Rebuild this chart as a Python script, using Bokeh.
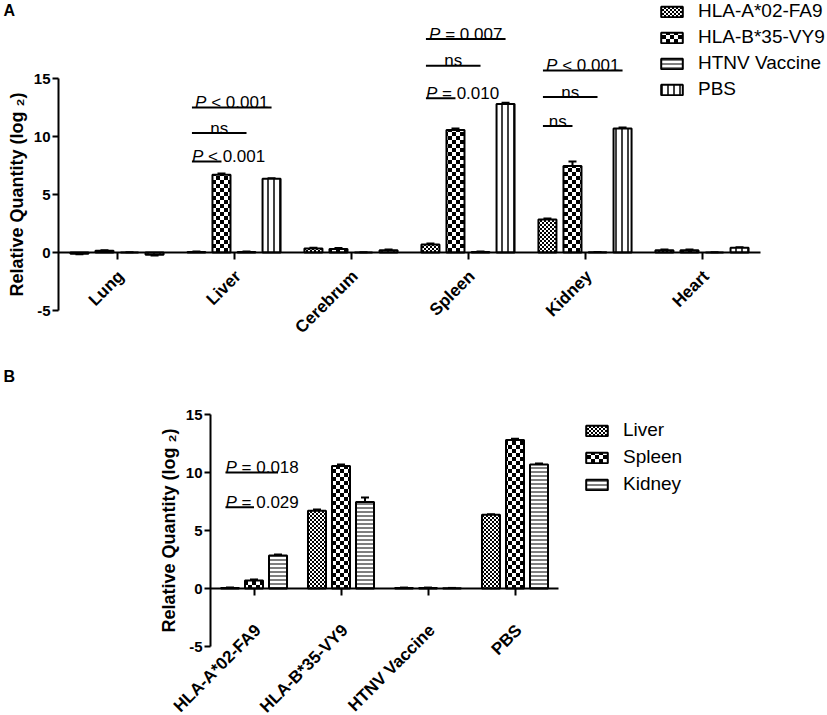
import base64
import numpy as np
from bokeh.plotting import figure
from bokeh.models import (ColumnDataSource, Legend, LegendItem, Whisker, TeeHead,
                          Label, FixedTicker, ImageURLTexture)
from bokeh.layouts import column
from bokeh.embed import file_html
from bokeh.resources import INLINE
from bokeh.core.properties import value

FONT = "Liberation Sans"

# ---------------- data ----------------
organs = ["Lung", "Liver", "Cerebrum", "Spleen", "Kidney", "Heart"]
groups = ["HLA-A*02-FA9", "HLA-B*35-VY9", "HTNV Vaccine", "PBS"]

a02 = [-0.10, 0.05, 0.35, 0.70, 2.85, 0.20]
a02_err = [0.05, 0.04, 0.05, 0.08, 0.08, 0.05]
b35 = [0.15, 6.70, 0.30, 10.55, 7.45, 0.20]
b35_err = [0.05, 0.10, 0.08, 0.15, 0.40, 0.06]
htnv = [0.00, 0.05, 0.00, 0.05, 0.02, 0.00]
htnv_err = [0.03, 0.03, 0.03, 0.03, 0.03, 0.03]
pbs = [-0.20, 6.35, 0.20, 12.80, 10.70, 0.40]
pbs_err = [0.05, 0.05, 0.05, 0.12, 0.08, 0.05]

yticks = [-5, 0, 5, 10, 15]

# panel A significance brackets: organ, from-group, to-group, height, label
ann_a_organ = ["Liver", "Liver", "Liver", "Spleen", "Spleen", "Spleen", "Kidney", "Kidney", "Kidney"]
ann_a_from = [0, 0, 0, 0, 0, 0, 0, 0, 0]
ann_a_to = [1, 2, 3, 1, 2, 3, 1, 2, 3]
ann_a_y = [7.85, 10.3, 12.5, 13.3, 16.1, 18.4, 10.9, 13.4, 15.7]
ann_a_label = ["P < 0.001", "ns", "P < 0.001", "P = 0.010", "ns", "P = 0.007",
               "ns", "ns", "P < 0.001"]

# panel B: groups on x, organs as series
b_organs = ["Liver", "Spleen", "Kidney"]
ann_b_group = ["HLA-A*02-FA9", "HLA-A*02-FA9"]
ann_b_from = [0, 0]
ann_b_to = [1, 2]
ann_b_y = [7.0, 10.0]
ann_b_label = ["P = 0.029", "P = 0.018"]


# ---------------- styles ----------------
def checker_url(n):
    h = n // 2
    svg = (f'<svg xmlns="http://www.w3.org/2000/svg" width="{n}" height="{n}">'
           f'<rect width="{n}" height="{n}" fill="white"/>'
           f'<rect width="{h}" height="{h}" fill="black"/>'
           f'<rect x="{h}" y="{h}" width="{h}" height="{h}" fill="black"/></svg>')
    return "data:image/svg+xml;base64," + base64.b64encode(svg.encode()).decode()


def style(kind):
    if kind == "fine":
        return dict(hatch_pattern=value("fine"),
                    hatch_extra={"fine": ImageURLTexture(url=checker_url(4))})
    if kind == "coarse":
        return dict(hatch_pattern=value("coarse"),
                    hatch_extra={"coarse": ImageURLTexture(url=checker_url(8))})
    if kind == "hline":
        return dict(hatch_pattern=value("horizontal_line"), hatch_scale=4, hatch_weight=1,
                    hatch_color="black")
    return dict(hatch_pattern=value("vertical_line"), hatch_scale=6, hatch_weight=1.5,
                hatch_color="black")


PXY = 11.6
CW = {"0": .556, "1": .556, "2": .556, "3": .556, "4": .556, "5": .556, "6": .556, "7": .556,
      "8": .556, "9": .556, ".": .278, " ": .278, "<": .584, "=": .584}
PFONT = 17


def text_w(s):
    return sum(CW.get(c, .556) for c in s) * PFONT


def make_panel(width, height, axis_px, cats, series, errs, names, styles, unit_px, zero_px,
               slot, barw, ann, letter, letter_px, legend_pos, legend_spacing, cat_off):
    n = len(series)
    x_start = -0.5 - axis_px / unit_px
    x_end = -0.5 + (width - axis_px) / unit_px
    y_top = zero_px / PXY
    y_bot = -(height - zero_px) / PXY
    p = figure(width=width, height=height, x_range=(x_start, x_end), y_range=(y_bot, y_top),
               output_backend="svg", toolbar_location=None,
               min_border_left=0, min_border_right=0, min_border_top=0, min_border_bottom=0)
    p.outline_line_color = None
    p.grid.visible = False
    p.background_fill_color = "white"

    idx = np.arange(len(cats))
    items = []
    for k in range(n):
        xs = idx + (k - (n - 1) / 2) * slot
        vals = np.array(series[k], dtype=float)
        er = np.array(errs[k], dtype=float)
        src = ColumnDataSource(dict(x=xs, top=vals, bottom=np.zeros_like(vals),
                                    lower=vals, upper=np.where(vals >= 0, vals + er, vals - er)))
        r = p.vbar(x="x", top="top", bottom="bottom", width=barw, source=src,
                   fill_color="white", line_color="black", line_width=2, **style(styles[k]))
        p.add_layout(Whisker(source=src, base="x", lower="lower", upper="upper",
                             line_width=2, line_color="black",
                             upper_head=TeeHead(size=8, line_width=2, line_color="black"),
                             lower_head=None))
        items.append(LegendItem(label=names[k], renderers=[r]))

    # brackets
    a_cat, a_from, a_to, a_y, a_lab = ann
    ci = np.array([cats.index(c) for c in a_cat])
    x0 = ci + (np.array(a_from) - (n - 1) / 2) * slot - 0.25 * barw
    x1 = ci + (np.array(a_to) - (n - 1) / 2) * slot
    p.segment(x0=x0, y0=a_y, x1=x1, y1=a_y, line_width=2, line_color="black")
    ns_x, ns_y = [], []
    px_, py_, pxo, rt, rxo = [], [], [], [], []
    wp = 0.667 * PFONT
    wsp = 0.278 * PFONT
    for i, lab in enumerate(a_lab):
        if lab == "ns":
            ns_x.append((x0[i] + x1[i]) / 2)
            ns_y.append(a_y[i])
        else:
            rest = lab[2:]
            tw = wp + wsp + text_w(rest)
            if a_to[i] - a_from[i] >= 3:
                ax = (x0[i] + x1[i]) / 2
                off = -tw / 2
            else:
                ax = x0[i]
                off = 0
            px_.append(ax); py_.append(a_y[i]); pxo.append(off)
            rt.append(rest); rxo.append(off + wp + wsp)
    common = dict(text_font=value(FONT), text_font_size=value(f"{PFONT}px"), text_color="black",
                  text_baseline="alphabetic", y_offset=-5)
    if ns_x:
        p.text(x=ns_x, y=ns_y, text=["ns"] * len(ns_x), text_align="center", **common)
    if px_:
        p.text(x=px_, y=py_, text=["P"] * len(px_), x_offset=pxo, text_align="left",
               text_font_style="italic", **common)
        p.text(x=px_, y=py_, text=rt, x_offset=rxo, text_align="left", **common)

    # category labels (rotated)
    p.text(x=list(idx), y=[0] * len(cats), text=cats, angle=np.pi / 4, text_align="right",
           text_baseline="middle", x_offset=cat_off[0], y_offset=cat_off[1],
           text_font=value(FONT), text_font_style="bold", text_font_size=value("17px"),
           text_color="black")

    # axes
    yax = p.yaxis[0]
    yax.fixed_location = -0.5
    yax.bounds = (-5, 15)
    yax.ticker = FixedTicker(ticks=yticks)
    yax.major_label_overrides = {t: str(t) for t in yticks}
    yax.minor_tick_line_color = None
    yax.major_tick_in = 0
    yax.major_tick_out = 6
    yax.major_tick_line_width = 2
    yax.axis_line_width = 2
    yax.major_label_text_font = FONT
    yax.major_label_text_font_style = "bold"
    yax.major_label_text_font_size = "15px"
    yax.major_label_text_color = "black"
    yax.major_label_standoff = 2
    yax.axis_label = "Relative Quantity (log \u2082)"
    yax.axis_label_text_font = FONT
    yax.axis_label_text_font_style = "bold"
    yax.axis_label_text_font_size = "18px"
    yax.axis_label_text_color = "black"
    yax.axis_label_standoff = 4

    xax = p.xaxis[0]
    xax.fixed_location = 0
    xax.bounds = (-0.5, len(cats) - 0.5)
    xax.ticker = FixedTicker(ticks=list(range(len(cats))))
    xax.major_label_text_color = None
    xax.minor_tick_line_color = None
    xax.major_tick_in = 0
    xax.major_tick_out = 7
    xax.major_tick_line_width = 2
    xax.axis_line_width = 2

    leg = Legend(items=items, location=legend_pos, glyph_width=27, glyph_height=13,
                 label_text_font=FONT, label_text_font_size="19px", spacing=legend_spacing,
                 padding=0, margin=0, border_line_color=None, background_fill_alpha=0,
                 label_standoff=13, label_text_color="black")
    p.add_layout(leg)

    p.add_layout(Label(x=x_start + letter_px[0] / unit_px, y=y_top - letter_px[1] / PXY,
                       text=letter, text_font=FONT, text_color="black",
                       text_font_style="bold", text_font_size="16px", text_baseline="top"))
    return p


# Panel A (page rows 0..353)
WA, HA = 827, 353
pA = make_panel(WA, HA, 58, organs, [a02, b35, htnv, pbs],
                [a02_err, b35_err, htnv_err, pbs_err], groups,
                ["fine", "coarse", "hline", "vline"], 117, 252, 0.214, 0.154,
                (ann_a_organ, ann_a_from, ann_a_to, ann_a_y, ann_a_label),
                "A", (3, 1), (658, HA - 100), 4, (4, 21))

# Panel B (page rows 353..715)
bi = [organs.index(o) for o in b_organs]
series_b = [[a02[i], b35[i], htnv[i], pbs[i]] for i in bi]
errs_b = [[a02_err[i], b35_err[i], htnv_err[i], pbs_err[i]] for i in bi]
WB, HB = 827, 362
pB = make_panel(WB, HB, 210, groups, series_b, errs_b, b_organs,
                ["fine", "coarse", "hline"], 87, 235, 0.276, 0.207,
                (ann_b_group, ann_b_from, ann_b_to, ann_b_y, ann_b_label),
                "B", (3, 14), (583, HB - 142), 5, (4, 39))

layout = column(pA, pB)
open("out.html", "w").write(file_html(layout, INLINE))
